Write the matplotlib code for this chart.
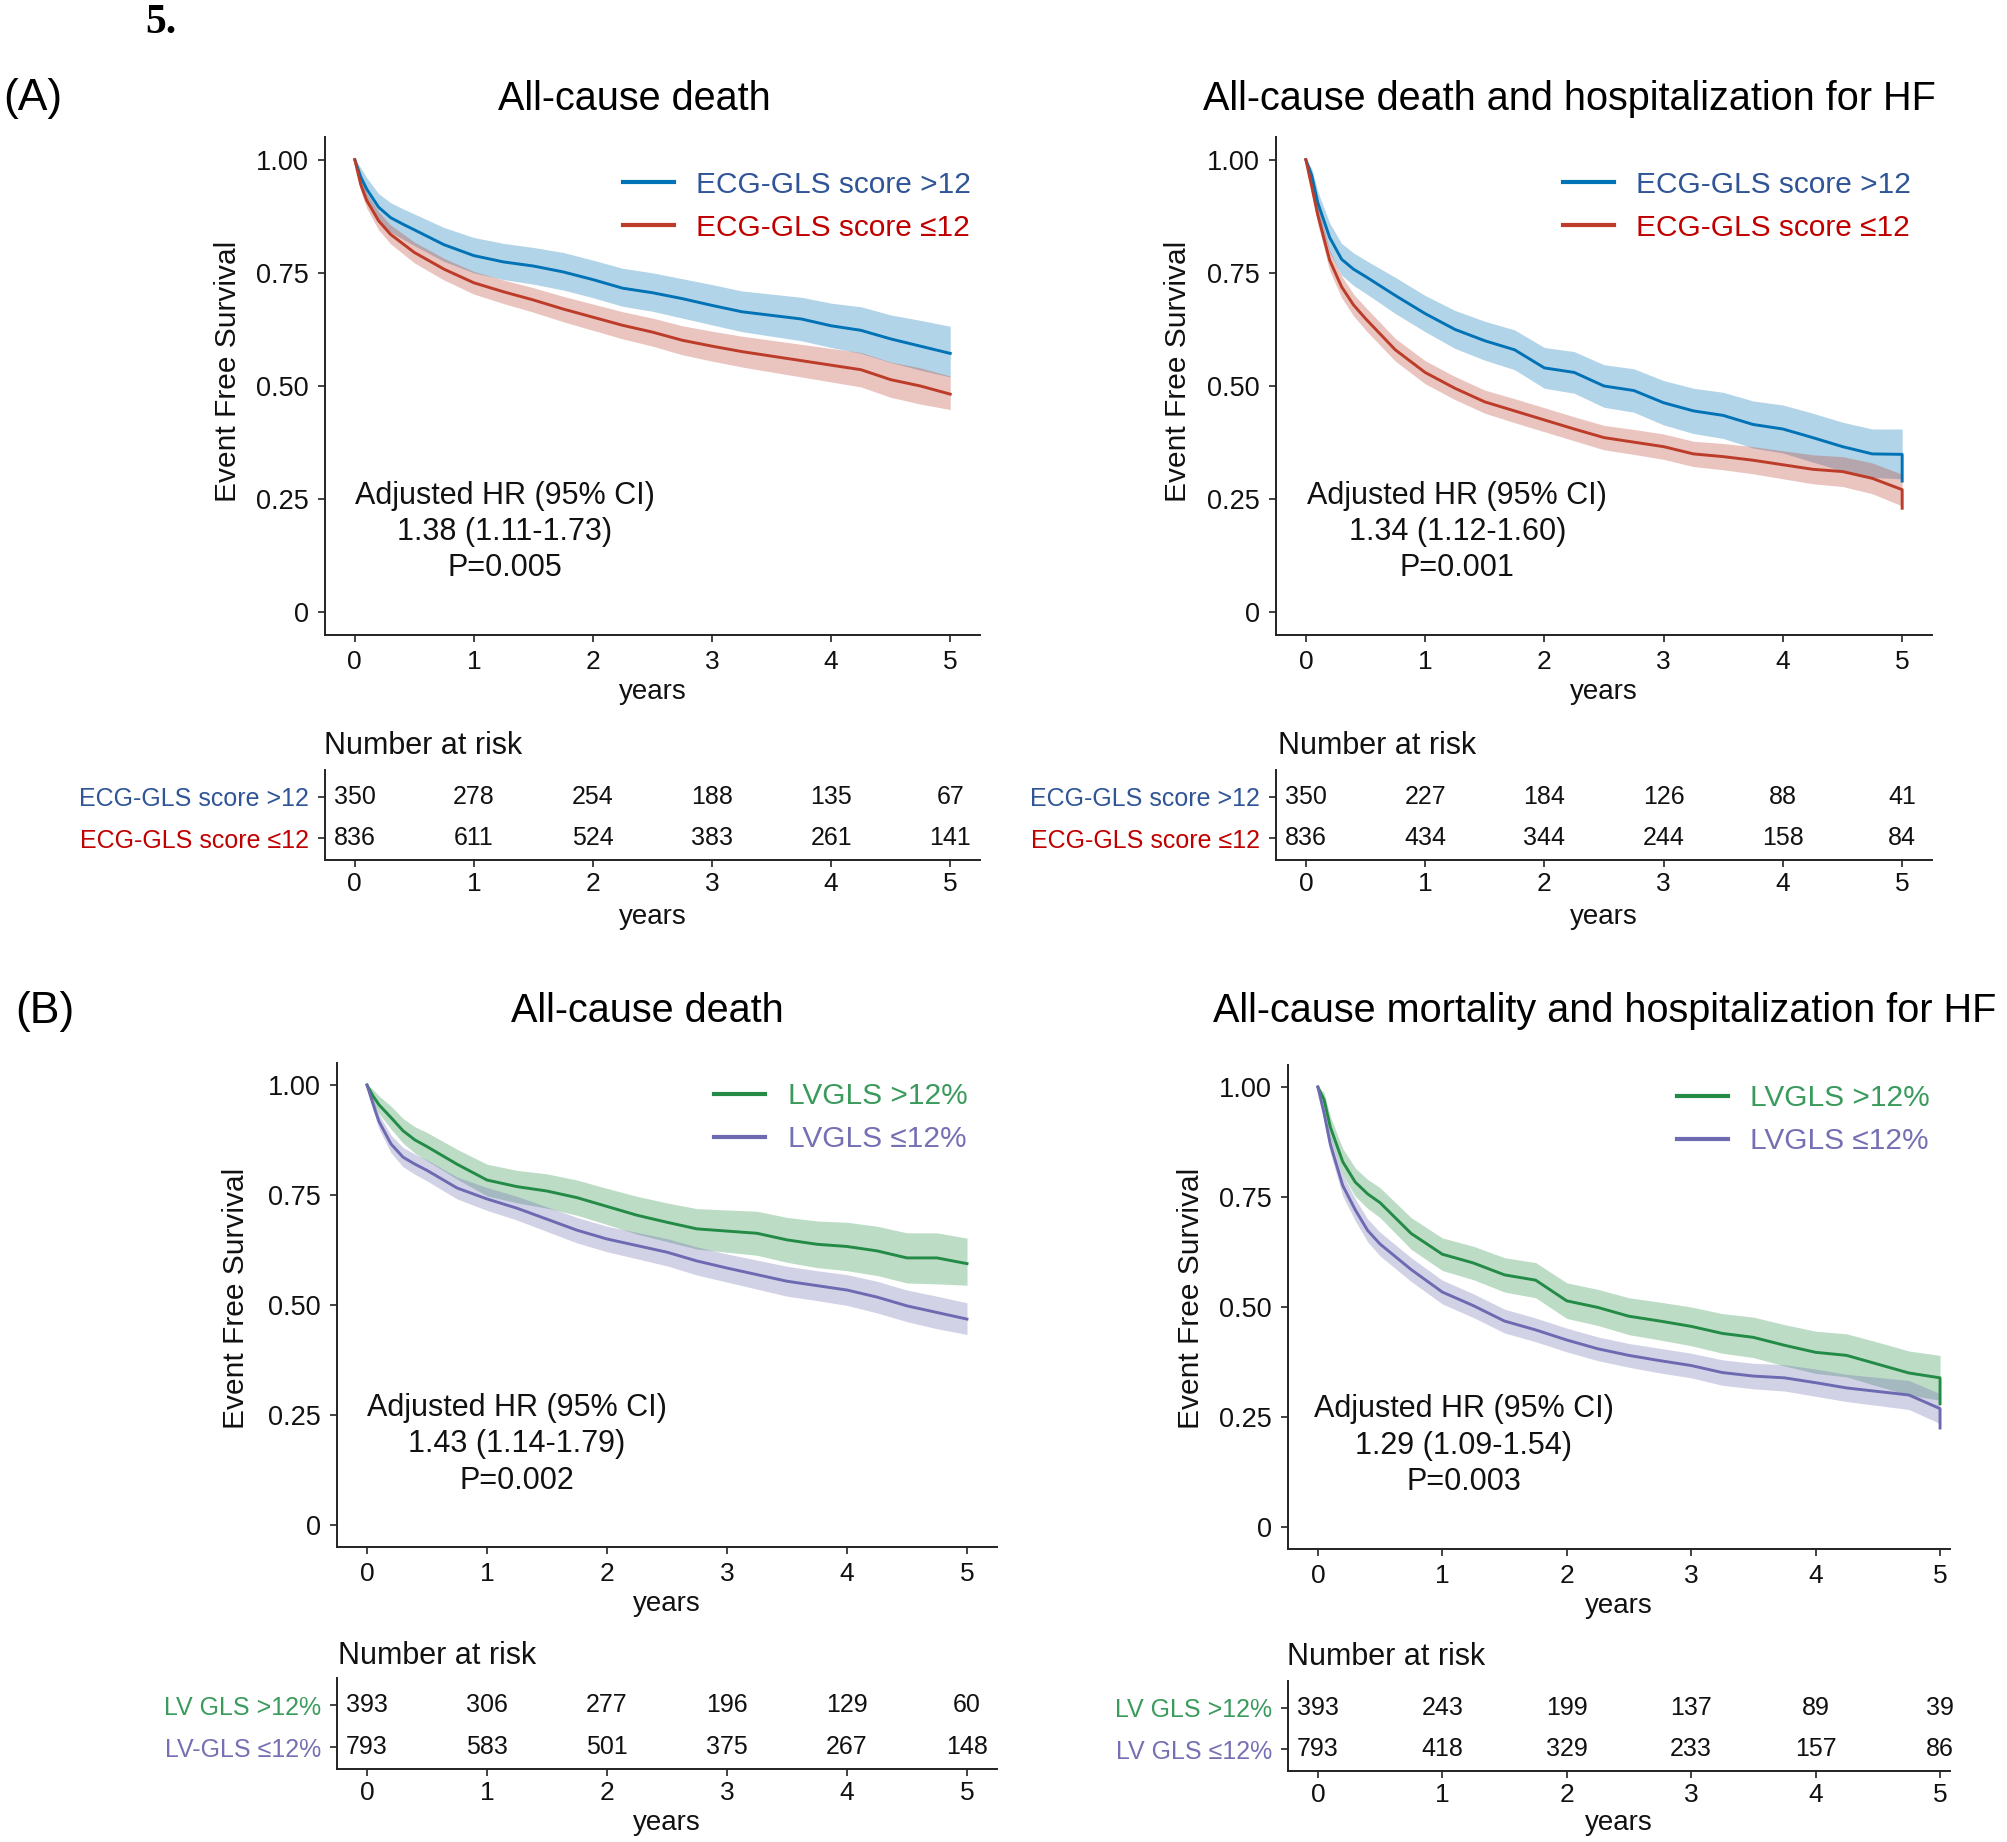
import matplotlib
matplotlib.use('Agg')
import matplotlib.pyplot as plt

plt.rcParams['font.family'] = ['Liberation Sans', 'DejaVu Sans']

W, H, DPI = 2008, 1842, 100

# ---------------- data ----------------
years = [0, 0.05, 0.1, 0.2, 0.3, 0.4, 0.5, 0.75, 1.0, 1.25, 1.5, 1.75, 2.0,
         2.25, 2.5, 2.75, 3.0, 3.25, 3.5, 3.75, 4.0, 4.25, 4.5, 4.75, 5.0]
risk_years = [0, 1, 2, 3, 4, 5]

# (A) All-cause death, ECG-GLS score >12 / <=12
a_death_hi = [1.0, 0.962, 0.935, 0.895, 0.872, 0.858, 0.845, 0.812, 0.788, 0.774, 0.765, 0.752, 0.735,
              0.716, 0.706, 0.693, 0.678, 0.664, 0.656, 0.648, 0.633, 0.623, 0.604, 0.588, 0.572]
a_death_hi_lo = [1.0, 0.94, 0.91, 0.865, 0.84, 0.825, 0.81, 0.775, 0.75, 0.735, 0.725, 0.712, 0.695,
                 0.676, 0.665, 0.65, 0.635, 0.62, 0.61, 0.6, 0.585, 0.572, 0.552, 0.535, 0.52]
a_death_hi_up = [1.0, 0.982, 0.96, 0.925, 0.905, 0.892, 0.88, 0.85, 0.828, 0.815, 0.806, 0.795, 0.778,
                 0.76, 0.75, 0.737, 0.724, 0.71, 0.703, 0.696, 0.683, 0.675, 0.657, 0.645, 0.632]
a_death_lo = [1.0, 0.945, 0.91, 0.865, 0.835, 0.815, 0.795, 0.758, 0.728, 0.708, 0.69, 0.67, 0.652,
              0.634, 0.619, 0.601, 0.588, 0.576, 0.566, 0.556, 0.546, 0.536, 0.514, 0.5, 0.482]
a_death_lo_lo = [1.0, 0.93, 0.893, 0.845, 0.814, 0.793, 0.772, 0.734, 0.703, 0.682, 0.663, 0.642, 0.623,
                 0.604, 0.588, 0.569, 0.555, 0.542, 0.531, 0.52, 0.509, 0.498, 0.475, 0.46, 0.448]
a_death_lo_up = [1.0, 0.96, 0.926, 0.885, 0.856, 0.837, 0.818, 0.782, 0.753, 0.734, 0.717, 0.698, 0.681,
                 0.664, 0.65, 0.633, 0.621, 0.61, 0.601, 0.592, 0.583, 0.574, 0.553, 0.54, 0.522]

# (A) All-cause death and hospitalization for HF
a_hf_hi = [1.0, 0.965, 0.905, 0.828, 0.78, 0.758, 0.742, 0.7, 0.66, 0.625, 0.6, 0.58, 0.54,
           0.53, 0.5, 0.49, 0.463, 0.445, 0.435, 0.415, 0.405, 0.386, 0.366, 0.35, 0.349]
a_hf_hi_end = 0.29
a_hf_hi_lo = [1.0, 0.95, 0.88, 0.795, 0.745, 0.722, 0.705, 0.66, 0.62, 0.583, 0.557, 0.536, 0.495,
              0.484, 0.453, 0.442, 0.414, 0.395, 0.384, 0.363, 0.352, 0.332, 0.312, 0.298, 0.295]
a_hf_hi_up = [1.0, 0.98, 0.93, 0.86, 0.815, 0.794, 0.778, 0.74, 0.7, 0.667, 0.643, 0.624, 0.585,
              0.576, 0.547, 0.538, 0.512, 0.495, 0.486, 0.467, 0.458, 0.44, 0.42, 0.405, 0.405]
a_hf_lo = [1.0, 0.94, 0.878, 0.778, 0.719, 0.679, 0.649, 0.58, 0.53, 0.495, 0.465, 0.445, 0.425,
           0.405, 0.386, 0.376, 0.366, 0.35, 0.344, 0.336, 0.326, 0.316, 0.311, 0.296, 0.271]
a_hf_lo_end = 0.23
a_hf_lo_lo = [1.0, 0.925, 0.858, 0.755, 0.695, 0.655, 0.624, 0.555, 0.505, 0.47, 0.44, 0.419, 0.399,
              0.379, 0.359, 0.349, 0.338, 0.322, 0.315, 0.306, 0.295, 0.284, 0.278, 0.262, 0.235]
a_hf_lo_up = [1.0, 0.955, 0.898, 0.8, 0.743, 0.703, 0.674, 0.605, 0.556, 0.521, 0.491, 0.472, 0.452,
              0.432, 0.413, 0.404, 0.394, 0.378, 0.373, 0.366, 0.357, 0.348, 0.344, 0.33, 0.305]

# (B) All-cause death, LVGLS >12% / <=12%
b_death_hi = [1.0, 0.975, 0.955, 0.926, 0.896, 0.875, 0.86, 0.82, 0.784, 0.769, 0.759, 0.744, 0.724,
              0.704, 0.688, 0.673, 0.668, 0.663, 0.648, 0.638, 0.633, 0.623, 0.607, 0.607, 0.594]
b_death_hi_lo = [1.0, 0.96, 0.935, 0.9, 0.868, 0.845, 0.828, 0.786, 0.748, 0.732, 0.72, 0.704, 0.683,
                 0.661, 0.644, 0.627, 0.62, 0.613, 0.597, 0.585, 0.578, 0.567, 0.55, 0.548, 0.545]
b_death_hi_up = [1.0, 0.99, 0.975, 0.952, 0.924, 0.905, 0.892, 0.854, 0.82, 0.806, 0.798, 0.784, 0.765,
                 0.747, 0.732, 0.719, 0.716, 0.713, 0.699, 0.691, 0.688, 0.679, 0.664, 0.664, 0.652]
b_death_lo = [1.0, 0.957, 0.917, 0.866, 0.836, 0.82, 0.806, 0.766, 0.741, 0.72, 0.695, 0.67, 0.65,
              0.635, 0.62, 0.6, 0.584, 0.569, 0.554, 0.544, 0.534, 0.518, 0.498, 0.483, 0.468]
b_death_lo_lo = [1.0, 0.943, 0.9, 0.846, 0.814, 0.797, 0.782, 0.741, 0.715, 0.693, 0.667, 0.641, 0.621,
                 0.605, 0.589, 0.568, 0.552, 0.536, 0.52, 0.51, 0.499, 0.482, 0.462, 0.446, 0.433]
b_death_lo_up = [1.0, 0.97, 0.933, 0.886, 0.858, 0.843, 0.83, 0.791, 0.767, 0.747, 0.723, 0.699, 0.679,
                 0.665, 0.651, 0.632, 0.616, 0.602, 0.588, 0.578, 0.569, 0.554, 0.534, 0.52, 0.505]

# (B) All-cause mortality and hospitalization for HF
b_hf_hi = [1.0, 0.971, 0.909, 0.83, 0.784, 0.757, 0.737, 0.667, 0.62, 0.6, 0.573, 0.561, 0.514,
           0.499, 0.479, 0.468, 0.456, 0.44, 0.431, 0.413, 0.397, 0.39, 0.37, 0.35, 0.339]
b_hf_hi_end = 0.28
b_hf_hi_lo = [1.0, 0.955, 0.885, 0.8, 0.752, 0.724, 0.703, 0.631, 0.583, 0.562, 0.534, 0.521, 0.474,
              0.458, 0.437, 0.425, 0.412, 0.395, 0.385, 0.366, 0.349, 0.341, 0.32, 0.3, 0.288]
b_hf_hi_up = [1.0, 0.987, 0.933, 0.86, 0.816, 0.79, 0.771, 0.703, 0.657, 0.638, 0.612, 0.601, 0.555,
              0.54, 0.521, 0.511, 0.5, 0.485, 0.477, 0.46, 0.445, 0.439, 0.42, 0.4, 0.39]
b_hf_lo = [1.0, 0.94, 0.87, 0.776, 0.721, 0.674, 0.643, 0.585, 0.534, 0.503, 0.468, 0.448, 0.425,
           0.405, 0.39, 0.378, 0.367, 0.351, 0.343, 0.339, 0.328, 0.316, 0.308, 0.3, 0.269]
b_hf_lo_end = 0.225
b_hf_lo_lo = [1.0, 0.925, 0.85, 0.752, 0.696, 0.648, 0.616, 0.558, 0.507, 0.476, 0.441, 0.421, 0.398,
              0.378, 0.363, 0.35, 0.339, 0.322, 0.314, 0.309, 0.297, 0.285, 0.276, 0.267, 0.235]
b_hf_lo_up = [1.0, 0.955, 0.89, 0.8, 0.746, 0.7, 0.67, 0.612, 0.561, 0.53, 0.495, 0.475, 0.452,
              0.432, 0.417, 0.406, 0.395, 0.38, 0.372, 0.369, 0.359, 0.347, 0.34, 0.333, 0.303]

# Numbers at risk
risk_a_death_hi = [350, 278, 254, 188, 135, 67]
risk_a_death_lo = [836, 611, 524, 383, 261, 141]
risk_a_hf_hi = [350, 227, 184, 126, 88, 41]
risk_a_hf_lo = [836, 434, 344, 244, 158, 84]
risk_b_death_hi = [393, 306, 277, 196, 129, 60]
risk_b_death_lo = [793, 583, 501, 375, 267, 148]
risk_b_hf_hi = [393, 243, 199, 137, 89, 39]
risk_b_hf_lo = [793, 418, 329, 233, 157, 86]

legend_a = ['ECG-GLS score >12', 'ECG-GLS score \u226412']
legend_b = ['LVGLS >12%', 'LVGLS \u226412%']
risk_labels_a = ['ECG-GLS score >12', 'ECG-GLS score \u226412']
risk_labels_b1 = ['LV GLS >12%', 'LV-GLS \u226412%']
risk_labels_b2 = ['LV GLS >12%', 'LV GLS \u226412%']

titles = ['All-cause death', 'All-cause death and hospitalization for HF',
          'All-cause death', 'All-cause mortality and hospitalization for HF']
annots = ['Adjusted HR (95% CI)\n1.38 (1.11-1.73)\nP=0.005',
          'Adjusted HR (95% CI)\n1.34 (1.12-1.60)\nP=0.001',
          'Adjusted HR (95% CI)\n1.43 (1.14-1.79)\nP=0.002',
          'Adjusted HR (95% CI)\n1.29 (1.09-1.54)\nP=0.003']

# ---------------- style ----------------
BLUE, RED = '#0072B5', '#BC3C29'
GREEN, PURPLE = '#238B45', '#6D6AB2'
T_BLUE, T_RED = '#2F5597', '#C00000'
T_GREEN, T_PURPLE = '#3B9B5D', '#7570B3'
AXC = '#222222'

fig = plt.figure(figsize=(W / DPI, H / DPI), dpi=DPI)


def add_ax(l, t, r, b):
    return fig.add_axes([l / W, 1 - b / H, (r - l) / W, (b - t) / H])


def ftext(x, y, s, **kw):
    return fig.text(x / W, 1 - y / H, s, **kw)


def style(ax, xpad):
    for s in ('top', 'right'):
        ax.spines[s].set_visible(False)
    for s in ('left', 'bottom'):
        ax.spines[s].set_color(AXC)
        ax.spines[s].set_linewidth(1.4)
    ax.tick_params(axis='both', length=5, width=1.2, color=AXC, labelcolor='#111111')
    ax.tick_params(axis='x', pad=xpad)
    ax.tick_params(axis='y', pad=6.5)


panels = [
    dict(main=(325, 137, 980, 635), rbox=(325, 770, 980, 860), xlim=(-0.25, 5.25),
         title_xy=(634, 110), ylab_xy=(228, 371), nar_xy=(324, 754),
         annot_xy=(1.257, 0.178), leg_anchor=(0.986, 0.932),
         curves=[(a_death_hi, a_death_hi_lo, a_death_hi_up, None, BLUE),
                 (a_death_lo, a_death_lo_lo, a_death_lo_up, None, RED)],
         legend=legend_a, legcols=[T_BLUE, T_RED],
         counts=[risk_a_death_hi, risk_a_death_lo], rlabels=risk_labels_a,
         years_main=695, years_risk=920),
    dict(main=(1276, 137, 1932, 635), rbox=(1276, 770, 1932, 860), xlim=(-0.25, 5.25),
         title_xy=(1569, 110), ylab_xy=(1178, 371), nar_xy=(1278, 754),
         annot_xy=(1.27, 0.178), leg_anchor=(0.968, 0.932),
         curves=[(a_hf_hi, a_hf_hi_lo, a_hf_hi_up, a_hf_hi_end, BLUE),
                 (a_hf_lo, a_hf_lo_lo, a_hf_lo_up, a_hf_lo_end, RED)],
         legend=legend_a, legcols=[T_BLUE, T_RED],
         counts=[risk_a_hf_hi, risk_a_hf_lo], rlabels=risk_labels_a,
         years_main=695, years_risk=920),
    dict(main=(337, 1063, 997, 1547), rbox=(337, 1678, 997, 1769), xlim=(-0.25, 5.25),
         title_xy=(647, 1022), ylab_xy=(236, 1298), nar_xy=(338, 1664),
         annot_xy=(1.25, 0.183), leg_anchor=(0.955, 0.96),
         curves=[(b_death_hi, b_death_hi_lo, b_death_hi_up, None, GREEN),
                 (b_death_lo, b_death_lo_lo, b_death_lo_up, None, PURPLE)],
         legend=legend_b, legcols=[T_GREEN, T_PURPLE],
         counts=[risk_b_death_hi, risk_b_death_lo], rlabels=risk_labels_b1,
         years_main=1607, years_risk=1826),
    dict(main=(1288, 1065, 1950, 1549), rbox=(1288, 1681, 1950, 1771), xlim=(-0.24, 5.08),
         title_xy=(1605, 1022), ylab_xy=(1191, 1298), nar_xy=(1287, 1665),
         annot_xy=(1.17, 0.185), leg_anchor=(0.97, 0.96),
         curves=[(b_hf_hi, b_hf_hi_lo, b_hf_hi_up, b_hf_hi_end, GREEN),
                 (b_hf_lo, b_hf_lo_lo, b_hf_lo_up, b_hf_lo_end, PURPLE)],
         legend=legend_b, legcols=[T_GREEN, T_PURPLE],
         counts=[risk_b_hf_hi, risk_b_hf_lo], rlabels=risk_labels_b2,
         years_main=1609, years_risk=1826),
]

for i, p in enumerate(panels):
    ax = add_ax(*p['main'])
    style(ax, 5.5)
    handles = []
    for surv, lo, up, end, col in p['curves']:
        ax.fill_between(years, lo, up, color=col, alpha=0.3, linewidth=0, zorder=1)
        xs = list(years)
        ys = list(surv)
        if end is not None:
            xs.append(years[-1])
            ys.append(end)
        ln, = ax.plot(xs, ys, color=col, lw=2.1, zorder=3)
        handles.append(ln)
    ax.set_xlim(*p['xlim'])
    ax.set_ylim(-0.05, 1.05)
    ax.set_xticks(risk_years)
    ax.set_xticklabels([str(v) for v in risk_years], fontsize=19)
    ax.set_yticks([0, 0.25, 0.5, 0.75, 1.0])
    ax.set_yticklabels(['0', '0.25', '0.50', '0.75', '1.00'], fontsize=19.5)
    ax.text(p['annot_xy'][0], p['annot_xy'][1], annots[i], ha='center', va='center',
            fontsize=22, linespacing=1.27, color='#111111', multialignment='center')
    leg = ax.legend(handles, p['legend'], loc='upper right', bbox_to_anchor=p['leg_anchor'],
                    frameon=False, fontsize=21.5, handlelength=1.7, handletextpad=0.75,
                    labelspacing=0.5, borderpad=0, borderaxespad=0, labelcolor=p['legcols'])
    for lh in leg.get_lines():
        lh.set_linewidth(3.0)
    cx = (p['main'][0] + p['main'][2]) / 2
    ftext(cx, p['years_main'] + 4, 'years', ha='center', va='baseline', fontsize=20, color='#111111')
    ftext(p['title_xy'][0], p['title_xy'][1], titles[i], ha='center', va='baseline', fontsize=28.5)
    ftext(p['ylab_xy'][0], p['ylab_xy'][1], 'Event Free Survival', rotation=90,
          ha='center', va='center', fontsize=21.5, color='#111111')

    # risk table
    rx = add_ax(*p['rbox'])
    style(rx, 3.5)
    rx.set_xlim(*p['xlim'])
    rx.set_ylim(-0.52, 1.65)
    rx.set_xticks(risk_years)
    rx.set_xticklabels([str(v) for v in risk_years], fontsize=19)
    rx.set_yticks([1, 0])
    rx.set_yticklabels(p['rlabels'], fontsize=18)
    for lab, c in zip(rx.get_yticklabels(), p['legcols']):
        lab.set_color(c)
    for row, counts in zip([1, 0], p['counts']):
        for t, n in zip(risk_years, counts):
            rx.text(t, row, str(n), ha='center', va='center', fontsize=18, color='#111111')
    ftext(p['nar_xy'][0], p['nar_xy'][1], 'Number at risk', ha='left', va='baseline',
          fontsize=22, color='#111111')
    ftext(cx, p['years_risk'] + 4, 'years', ha='center', va='baseline', fontsize=20, color='#111111')

ftext(3, 110, '(A)', ha='left', va='baseline', fontsize=32)
ftext(15, 1023, '(B)', ha='left', va='baseline', fontsize=32)
ftext(145, 33, '5.', ha='left', va='baseline', fontsize=30, fontweight='bold',
      family=['Liberation Serif', 'DejaVu Serif'])

fig.savefig('out.png', dpi=DPI, facecolor='white')
